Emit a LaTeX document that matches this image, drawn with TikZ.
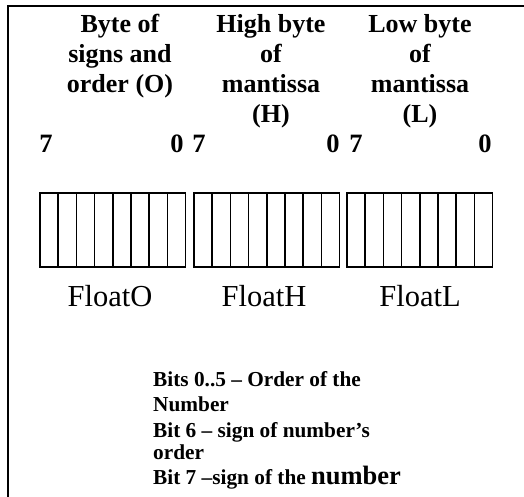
\documentclass[tikz,border=0pt]{standalone}
\usepackage{fontspec}
\setmainfont{Liberation Serif}
\begin{document}
\begin{tikzpicture}[x=1pt,y=1pt,
  hdr/.style={anchor=base,inner sep=0pt,font=\fontsize{26}{30}\selectfont\bfseries},
  bitno/.style={anchor=base,inner sep=0pt,font=\fontsize{26.5}{30}\selectfont\bfseries},
  regname/.style={anchor=base,inner sep=0pt,font=\fontsize{30.5}{36}\selectfont},
  note/.style={anchor=base west,inner sep=0pt,font=\fontsize{21.3}{25}\selectfont\bfseries},
  cellline/.style={draw,line width=1.5pt},
  frameline/.style={line width=2pt}]
\useasboundingbox (0,0) rectangle (524,497);
% frame
\coordinate (fb) at (8,0);
\coordinate (ft) at (8,491);
\coordinate (fr) at (524,491);
\draw[frameline] (fb) -- (ft) -- (fr);
% headers
\node[hdr] (o1) at (120,464) {Byte of};
\node[hdr] (o2) at (120,434) {signs and};
\node[hdr] (o3) at (120,404) {order (O)};
\node[hdr] (h1) at (271,464) {High byte};
\node[hdr] (h2) at (271,434) {of};
\node[hdr] (h3) at (271,404) {mantissa};
\node[hdr] (h4) at (271,374) {(H)};
\node[hdr] (l1) at (420,464) {Low byte};
\node[hdr] (l2) at (420,434) {of};
\node[hdr] (l3) at (420,404) {mantissa};
\node[hdr] (l4) at (420,374) {(L)};
% bit numbers
\node[bitno] (b1) at (46,344) {7};
\node[bitno] (b2) at (177,344) {0};
\node[bitno] (b3) at (199,344) {7};
\node[bitno] (b4) at (333,344) {0};
\node[bitno] (b5) at (356,344) {7};
\node[bitno] (b6) at (485,344) {0};
% cells
\foreach \b/\x in {O/40,H/194,L/347}{
  \foreach \i in {0,...,7}{
    \draw[cellline] (\x+\i*18.2,230) rectangle ++(18.2,74);
  }
}
% register names
\node[regname] (fo) at (110,190) {FloatO};
\node[regname] (fh) at (264,190) {FloatH};
\node[regname] (fl) at (420,190) {FloatL};
% notes
\node[note] (n1) at (153,110) {Bits 0..5 – Order of the};
\node[note] (n2) at (153,85) {Number};
\node[note] (n3) at (153,59) {Bit 6 – sign of number’s};
\node[note] (n4) at (153,37) {order};
\node[note] (n5) at (153,12) {Bit 7 –sign of the {\fontsize{26.5}{30}\selectfont number}};
\end{tikzpicture}
\end{document}
